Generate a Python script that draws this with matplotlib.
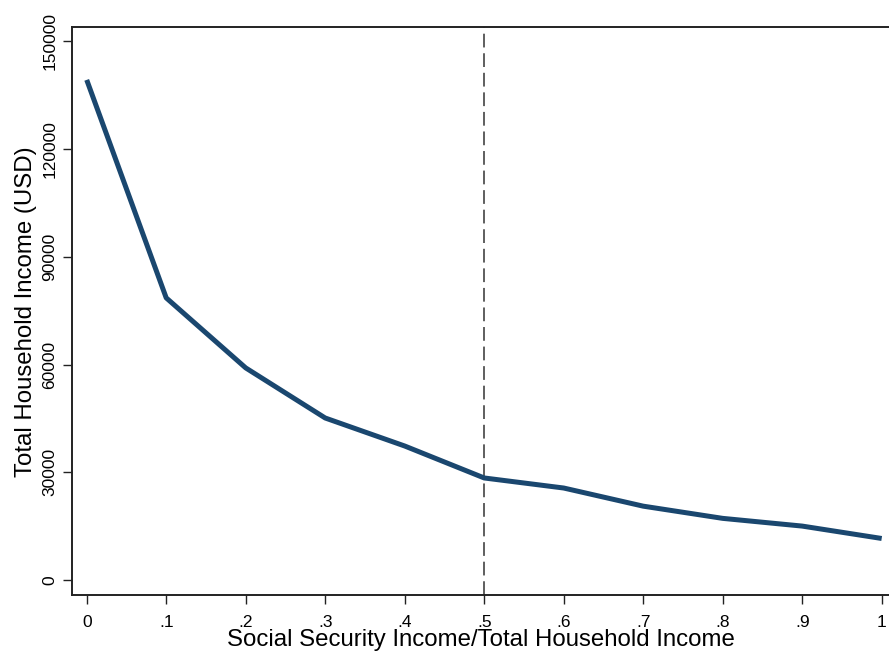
import numpy as np
import matplotlib
matplotlib.use('Agg')
import matplotlib.pyplot as plt

plt.rcParams.update({
    'font.family': ['Liberation Sans', 'DejaVu Sans'],
    'font.size': 12.5,
})

# Data
share = [0.0, 0.1, 0.2, 0.3, 0.4, 0.5, 0.6, 0.7, 0.8, 0.9, 1.0]
income = [139300, 78600, 59100, 45150, 37350, 28450, 25650, 20600, 17200, 15050, 11600]
cutoff = 0.5

y_ticks = [0, 30000, 60000, 90000, 120000, 150000]
x_ticks = [0, 0.1, 0.2, 0.3, 0.4, 0.5, 0.6, 0.7, 0.8, 0.9, 1.0]
x_ticklabels = ['0', '.1', '.2', '.3', '.4', '.5', '.6', '.7', '.8', '.9', '1']

fig = plt.figure(figsize=(8.89, 6.54), dpi=100)
ax = fig.add_axes([0.081, 0.090, 0.919, 0.868])

ax.plot(share, income, color='#1A476F', linewidth=3.6, solid_capstyle='butt', zorder=3)
ax.axvline(cutoff, color='#333333', linestyle=(0, (9, 3.8)), linewidth=1.1, zorder=2)

ax.set_xlim(-0.0185, 1.0092)
ax.set_ylim(-4180, 153900)

ax.set_xticks(x_ticks)
ax.set_xticklabels(x_ticklabels)
ax.set_yticks(y_ticks)
ax.set_yticklabels([str(v) for v in y_ticks], rotation=90, va='center')

ax.tick_params(axis='both', length=6.5, width=1.0, color='#222222')
ax.tick_params(axis='x', pad=8)
ax.tick_params(axis='y', pad=4)

for side in ['left', 'bottom', 'top']:
    ax.spines[side].set_linewidth(1.4)
    ax.spines[side].set_color('#222222')
ax.spines['right'].set_visible(False)

ax.set_xlabel('Social Security Income/Total Household Income', fontsize=17.3, labelpad=-1)
ax.set_ylabel('Total Household Income (USD)', fontsize=17.3, labelpad=4)

fig.savefig('out.png', dpi=100)
